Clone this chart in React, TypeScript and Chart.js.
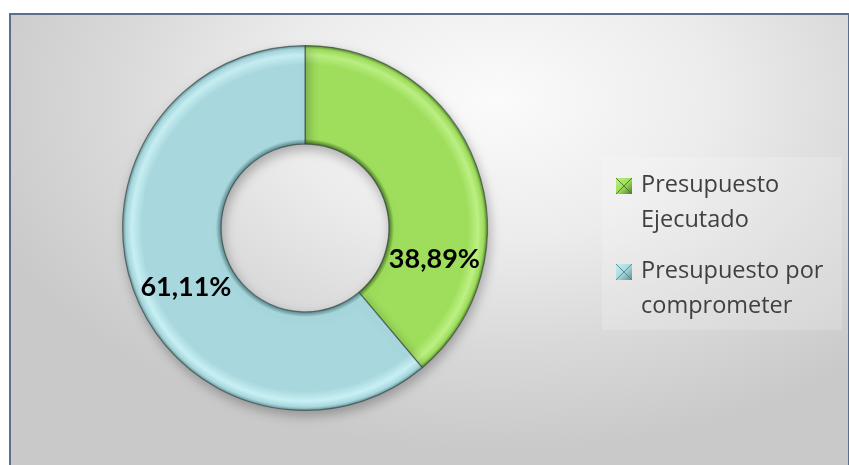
import React, { useEffect, useRef } from "react";
import { Chart, registerables } from "chart.js";

Chart.register(...registerables);

const categories = ["Presupuesto Ejecutado", "Presupuesto por comprometer"];
const values = [38.89, 61.11];
const valueLabels = ["38,89%", "61,11%"];
const baseColors = ["#9ede5c", "#a8d8de"];
const darkColors = ["#4f7d2b", "#5d8b92"];
const lightColors = ["#bdf084", "#c8f0f4"];
const labelFractions = [0.74, 0.47];

const LEGEND_FONT = '23.5px "Open Sans", "Noto Sans", sans-serif';
const LABEL_FONT = 'bold 27px Lato, "Open Sans", sans-serif';

function wrapText(ctx: CanvasRenderingContext2D, text: string, maxWidth: number): string[] {
  const words = text.split(" ");
  const lines: string[] = [];
  let cur = "";
  for (const w of words) {
    const test = cur ? cur + " " + w : w;
    if (cur && ctx.measureText(test).width > maxWidth) {
      lines.push(cur);
      cur = w;
    } else {
      cur = test;
    }
  }
  if (cur) lines.push(cur);
  return lines;
}

const decorPlugin = {
  id: "decor",
  beforeDatasetsDraw(chart: any) {
    const ctx = chart.ctx;
    ctx.save();
    ctx.shadowColor = "rgba(0,0,0,0.28)";
    ctx.shadowBlur = 12;
    ctx.shadowOffsetX = 2;
    ctx.shadowOffsetY = 5;
  },
  afterDatasetsDraw(chart: any) {
    const ctx = chart.ctx;
    ctx.restore();
    const meta = chart.getDatasetMeta(0);
    ctx.save();
    ctx.font = LABEL_FONT;
    ctx.fillStyle = "#000000";
    ctx.textAlign = "center";
    ctx.textBaseline = "middle";
    meta.data.forEach((arc: any, i: number) => {
      const a = arc.startAngle + (arc.endAngle - arc.startAngle) * labelFractions[i];
      const r = (arc.innerRadius + arc.outerRadius) / 2;
      ctx.fillText(valueLabels[i], arc.x + Math.cos(a) * r, arc.y + Math.sin(a) * r);
    });
    ctx.restore();
  },
  afterDraw(chart: any) {
    const ctx = chart.ctx;
    const area = chart.chartArea;
    ctx.save();
    ctx.font = LEGEND_FONT;
    const boxX = area.right + 128;
    const textX = boxX + 25;
    const lineH = 35;
    const gap = 16;
    let baseline = area.top + 147;
    ctx.fillStyle = "rgba(255,255,255,0.18)";
    ctx.fillRect(boxX - 14, area.top + 112, 240, 173);
    categories.forEach((cat, i) => {
      const lines = wrapText(ctx, cat, 235);
      const bx = boxX, by = baseline - 14, bs = 16;
      const g = ctx.createLinearGradient(bx, by, bx + bs, by + bs);
      g.addColorStop(0, lightColors[i]);
      g.addColorStop(0.5, baseColors[i]);
      g.addColorStop(1, darkColors[i]);
      ctx.fillStyle = g;
      ctx.fillRect(bx, by, bs, bs);
      ctx.strokeStyle = darkColors[i];
      ctx.lineWidth = 1;
      ctx.beginPath();
      ctx.moveTo(bx, by); ctx.lineTo(bx + bs / 2, by + bs / 2); ctx.lineTo(bx + bs, by);
      ctx.moveTo(bx, by + bs); ctx.lineTo(bx + bs / 2, by + bs / 2); ctx.lineTo(bx + bs, by + bs);
      ctx.stroke();
      ctx.fillStyle = "#404040";
      ctx.textAlign = "left";
      ctx.textBaseline = "alphabetic";
      lines.forEach((ln, j) => {
        ctx.fillText(ln, textX, baseline + j * lineH);
      });
      baseline += lines.length * lineH + gap;
    });
    ctx.restore();
  },
};

function segmentFill(c: any) {
  const i = c.dataIndex;
  const chart = c.chart;
  const area = chart.chartArea;
  if (!area) return baseColors[i];
  const cx = (area.left + area.right) / 2;
  const cy = (area.top + area.bottom) / 2;
  const outer = Math.min(area.right - area.left, area.bottom - area.top) / 2;
  const inner = outer * 0.46;
  const g = chart.ctx.createRadialGradient(cx, cy, inner, cx, cy, outer);
  g.addColorStop(0, darkColors[i]);
  g.addColorStop(0.05, baseColors[i]);
  g.addColorStop(0.1, baseColors[i]);
  g.addColorStop(0.8, baseColors[i]);
  g.addColorStop(0.9, lightColors[i]);
  g.addColorStop(0.96, baseColors[i]);
  g.addColorStop(1, darkColors[i]);
  return g;
}

export default function App() {
  const ref = useRef<HTMLCanvasElement>(null);
  useEffect(() => {
    if (!ref.current) return;
    const chart = new Chart(ref.current, {
      type: "doughnut",
      data: {
        labels: categories,
        datasets: [
          {
            data: values,
            backgroundColor: segmentFill as any,
            borderColor: "rgba(45,60,50,0.6)",
            borderWidth: 1.2,
          },
        ],
      },
      options: {
        animation: false,
        responsive: false,
        cutout: "46%",
        layout: { padding: { left: 122, right: 361, top: 45, bottom: 54 } },
        plugins: {
          legend: { display: false },
          tooltip: { enabled: false },
        },
      },
      plugins: [decorPlugin],
    });
    return () => chart.destroy();
  }, []);

  return (
    <div style={{ position: "fixed", left: 0, top: 0, width: 849, height: 465, background: "#ffffff", overflow: "hidden" }}>
      <div
        style={{
          position: "absolute",
          left: 9,
          top: 13,
          width: 837,
          height: 470,
          border: "2px solid #5b6e8c",
          background:
            "radial-gradient(ellipse 65% 75% at 58% 18%, #fbfbfb 0%, #ececec 40%, #d9d9d9 70%, #c9c9c9 100%)",
        }}
      />
      <canvas ref={ref} width={849} height={465} style={{ position: "absolute", left: 0, top: 0 }} />
    </div>
  );
}
